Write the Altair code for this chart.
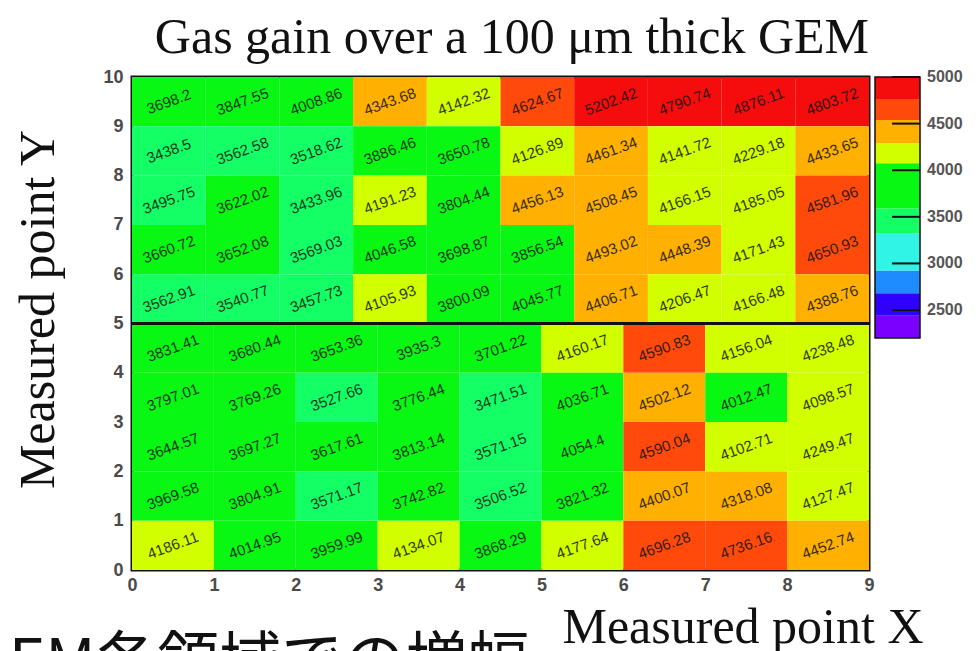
import altair as alt
import pandas as pd

# ---------------- data ----------------
# upper half (Measured point Y 5..10): 10 cells per row, spanning X 0..9
gain_y9 = [3698.2, 3847.55, 4008.86, 4343.68, 4142.32, 4624.67, 5202.42, 4790.74, 4876.11, 4803.72]
gain_y8 = [3438.5, 3562.58, 3518.62, 3886.46, 3650.78, 4126.89, 4461.34, 4141.72, 4229.18, 4433.65]
gain_y7 = [3495.75, 3622.02, 3433.96, 4191.23, 3804.44, 4456.13, 4508.45, 4166.15, 4185.05, 4581.96]
gain_y6 = [3660.72, 3652.08, 3569.03, 4046.58, 3698.87, 3856.54, 4493.02, 4448.39, 4171.43, 4650.93]
gain_y5 = [3562.91, 3540.77, 3457.73, 4105.93, 3800.09, 4045.77, 4406.71, 4206.47, 4166.48, 4388.76]
# lower half (Measured point Y 0..5): 9 cells per row
gain_y4 = [3831.41, 3680.44, 3653.36, 3935.3, 3701.22, 4160.17, 4590.83, 4156.04, 4238.48]
gain_y3 = [3797.01, 3769.26, 3527.66, 3776.44, 3471.51, 4036.71, 4502.12, 4012.47, 4098.57]
gain_y2 = [3644.57, 3697.27, 3617.61, 3813.14, 3571.15, 4054.4, 4590.04, 4102.71, 4249.47]
gain_y1 = [3969.58, 3804.91, 3571.17, 3742.82, 3506.52, 3821.32, 4400.07, 4318.08, 4127.47]
gain_y0 = [4186.11, 4014.95, 3959.99, 4134.07, 3868.29, 4177.64, 4696.28, 4736.16, 4452.74]

rows = {9: gain_y9, 8: gain_y8, 7: gain_y7, 6: gain_y6, 5: gain_y5,
        4: gain_y4, 3: gain_y3, 2: gain_y2, 1: gain_y1, 0: gain_y0}

x_ticks = [0, 1, 2, 3, 4, 5, 6, 7, 8, 9]
y_ticks = [0, 1, 2, 3, 4, 5, 6, 7, 8, 9, 10]

# colour palette (ROOT-like, discrete contour levels)
level_breaks = [2440, 2680, 2925, 3320, 3590, 4075, 4290, 4540, 4765]
level_colors = ["#7a00ff", "#3000ff", "#1e8cff", "#30f5e6", "#14ff66",
                "#08f814", "#d2ff00", "#ffb000", "#ff4a0c", "#f50c0c"]
z_min, z_max = 2200, 5000
bar_ticks = [2500, 3000, 3500, 4000, 4500, 5000]

title_text = "Gas gain over a 100 \u03bcm thick GEM"
x_title = "Measured point X"
y_title = "Measured point Y"
note_text = "GEM各領域での増幅率"

# ---------------- tables ----------------
recs = []
for yv, vals in rows.items():
    n = len(vals)
    w = 9 / n
    for i, v in enumerate(vals):
        recs.append({"x0": i * w, "x1": (i + 1) * w, "xc": (i + 0.5) * w,
                     "y0": yv, "y1": yv + 1, "yc": yv + 0.5,
                     "gain": v, "label": f"{v:g}"})
cells = pd.DataFrame(recs)

lows = [z_min] + level_breaks
highs = level_breaks + [z_max]
bands = pd.DataFrame({"lo": lows, "hi": highs,
                      "gain": [(a + b) / 2 for a, b in zip(lows, highs)]})
ticks_df = pd.DataFrame({"tick": bar_ticks, "tick_label": [str(t) for t in bar_ticks]})

W, H = 737, 493
bar_px = 261  # colour bar height in pixels
cb_lower = z_max - (z_max - z_min) * H / bar_px
cb_scale = alt.Scale(domain=[cb_lower, z_max], nice=False, zero=False)

color_scale = alt.Scale(type="threshold", domain=level_breaks, range=level_colors)

label_font = "Liberation Sans"
serif = "Liberation Serif"

x_axis = alt.Axis(values=x_ticks, format="d", title=x_title, titleFont=serif,
                  titleFontSize=50, titleFontWeight="normal", titleColor="#111111",
                  titleX=791, titleY=72, titleAlign="right", titleBaseline="alphabetic",
                  labelFont=label_font, labelFontSize=18, labelFontWeight="bold",
                  labelColor="#4a4a4a", labelPadding=6, ticks=False, tickSize=0,
                  domain=False, grid=False, labelFlush=False, zindex=2)
y_axis = alt.Axis(values=y_ticks, format="d", title=y_title, titleFont=serif,
                  titleFontSize=50, titleFontWeight="normal", titleColor="#111111",
                  titleAngle=270, titleX=-79, titleY=232, titleAlign="center",
                  titleBaseline="alphabetic",
                  labelFont=label_font, labelFontSize=18, labelFontWeight="bold",
                  labelColor="#4a4a4a", labelPadding=9, ticks=False, tickSize=0,
                  domain=False, grid=False, labelFlush=False)

heat = alt.Chart(cells).mark_rect().encode(
    x=alt.X("x0:Q", scale=alt.Scale(domain=[0, 9], nice=False, zero=False), axis=x_axis),
    x2="x1:Q",
    y=alt.Y("y0:Q", scale=alt.Scale(domain=[0, 10], nice=False, zero=False), axis=y_axis),
    y2="y1:Q",
    color=alt.Color("gain:Q", scale=color_scale, legend=None),
)

values_text = alt.Chart(cells).mark_text(
    angle=340, font=label_font, fontSize=15, color="#141414", opacity=0.85
).encode(x="xc:Q", y="yc:Q", text="label:N")

mid_line = alt.Chart(pd.DataFrame({"y": [5]})).mark_rule(
    color="#111111", strokeWidth=3
).encode(y="y:Q")

# slide caption partly hidden behind the white figure box
note = alt.Chart(pd.DataFrame({"t": [note_text]})).mark_text(
    align="left", baseline="alphabetic", font="Noto Sans CJK JP", fontSize=62,
    color="#111111"
).encode(x=alt.value(-166), y=alt.value(606), text="t:N")
mask = alt.Chart(pd.DataFrame({"t": [note_text]})).mark_rect(color="white").encode(
    x=alt.value(395), x2=alt.value(850), y=alt.value(522), y2=alt.value(610))

main = alt.layer(heat, values_text, mid_line, note, mask)

cb_rect = alt.Chart(bands).mark_rect().encode(
    x=alt.value(743), x2=alt.value(788),
    y=alt.Y("lo:Q", scale=cb_scale, axis=None), y2="hi:Q",
    color=alt.Color("gain:Q", scale=color_scale, legend=None),
)
cb_border = alt.Chart(pd.DataFrame({"lo": [z_min], "hi": [z_max]})).mark_rect(
    fillOpacity=0, stroke="#111111", strokeWidth=1.5
).encode(x=alt.value(743), x2=alt.value(788),
         y=alt.Y("lo:Q", scale=cb_scale, axis=None), y2="hi:Q")
cb_ticks = alt.Chart(ticks_df).mark_rule(color="#111111", strokeWidth=2).encode(
    x=alt.value(760), x2=alt.value(788),
    y=alt.Y("tick:Q", scale=cb_scale, axis=None))
cb_labels = alt.Chart(ticks_df).mark_text(
    align="left", baseline="middle", font=label_font, fontSize=16,
    fontWeight="bold", color="#555555"
).encode(x=alt.value(795), y=alt.Y("tick:Q", scale=cb_scale, axis=None),
         text="tick_label:N")

cbar = alt.layer(cb_rect, cb_border, cb_ticks, cb_labels)

chart = alt.layer(main, cbar).resolve_scale(y="independent").properties(
    width=W, height=H,
    autosize=alt.AutoSizeParams(type="none"),
    padding={"left": 124, "top": 69, "right": 103, "bottom": 81},
    title=alt.TitleParams(title_text, font=serif, fontSize=50, fontWeight="normal",
                          color="#111111", anchor="end", frame="group",
                          baseline="alphabetic", offset=16, dy=51),
).configure_view(stroke="#111111", strokeWidth=3)

chart.save("out.html", embed_options={"renderer": "svg", "actions": False})
